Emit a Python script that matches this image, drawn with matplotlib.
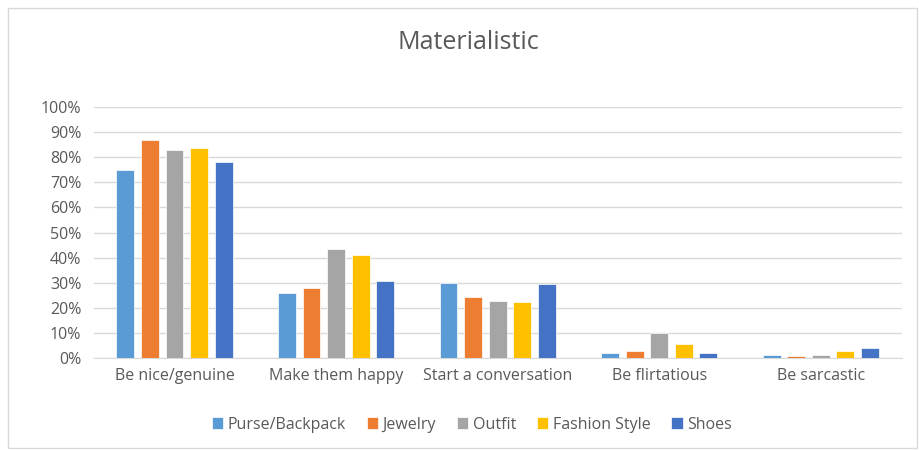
import numpy as np
import matplotlib
matplotlib.use("Agg")
import matplotlib.pyplot as plt
from matplotlib.patches import Rectangle
from matplotlib.ticker import PercentFormatter

categories = ["Be nice/genuine", "Make them happy", "Start a conversation",
              "Be flirtatious", "Be sarcastic"]
series_names = ["Purse/Backpack", "Jewelry", "Outfit", "Fashion Style", "Shoes"]
purse = [75, 26, 30, 2, 1.3]
jewelry = [87, 28, 24.5, 2.6, 0.7]
outfit = [83, 43.5, 22.7, 10, 1.3]
fashion = [83.5, 41.2, 22.2, 5.6, 2.6]
shoes = [78, 30.7, 29.6, 2, 3.8]
colors = ["#5B9BD5", "#ED7D31", "#A5A5A5", "#FFC000", "#4472C4"]

plt.rcParams['font.family'] = ['Open Sans', 'DejaVu Sans']
text_col = "#595959"

fig = plt.figure(figsize=(9.19, 4.5), dpi=100)
ax = fig.add_axes([0.102, 0.2044, 0.879, 0.5578])

x = np.arange(len(categories))
step = 0.152
width = 0.111
for i, (name, vals) in enumerate(zip(series_names, [purse, jewelry, outfit, fashion, shoes])):
    ax.bar(x + (i - 2) * step, vals, width, color=colors[i], label=name,
           edgecolor="white", linewidth=0.5, zorder=3)

ax.set_xlim(-0.5, len(categories) - 0.5)
ax.set_ylim(0, 100)
ax.set_yticks(np.arange(0, 101, 10))
ax.yaxis.set_major_formatter(PercentFormatter(decimals=0))
ax.set_xticks(x)
ax.set_xticklabels(categories)
ax.grid(axis="y", color="#d9d9d9", linewidth=1, zorder=0)
for s in ["top", "right", "left"]:
    ax.spines[s].set_visible(False)
ax.spines["bottom"].set_color("#d9d9d9")
ax.tick_params(axis="both", length=0, labelsize=11.5, colors=text_col)
ax.tick_params(axis="x", pad=7)
ax.tick_params(axis="y", pad=9)

fig.text(0.51, 0.905, "Materialistic", ha="center", va="center",
         fontsize=18, color=text_col)

ax.legend(loc="center", bbox_to_anchor=(0.468, -0.265), ncol=5, frameon=False,
          fontsize=11.5, labelcolor=text_col, handlelength=0.7, handleheight=0.7,
          handletextpad=0.3, columnspacing=1.3)

fig.patches.append(Rectangle((0.009, 0.004), 0.989, 0.978, transform=fig.transFigure,
                             fill=False, edgecolor="#d9d9d9", linewidth=1))

fig.savefig("out.png", dpi=100, facecolor="white")
